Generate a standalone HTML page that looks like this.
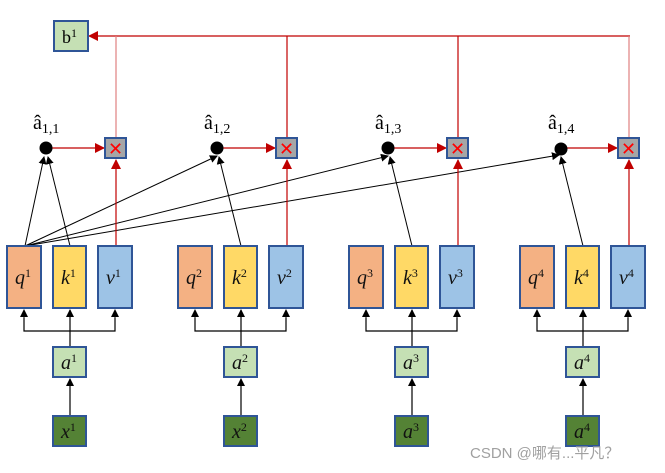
<!DOCTYPE html>
<html><head><meta charset="utf-8"><style>
html,body{margin:0;padding:0;background:#fff;width:665px;height:473px;overflow:hidden}
svg{display:block}
.lbl{font-family:"Liberation Serif",serif;font-style:italic;font-size:20px;fill:#111}
.sup{font-size:12px;font-style:normal}
.hat{font-family:"Liberation Serif",serif;font-size:20px}
</style></head><body>
<svg width="665" height="473" viewBox="0 0 665 473" xmlns="http://www.w3.org/2000/svg">
<defs>
<marker id="ab" markerWidth="8" markerHeight="8" refX="7" refY="4" orient="auto" markerUnits="userSpaceOnUse"><path d="M0,0 L8,4 L0,8 z" fill="#000"/></marker>
<marker id="ar" markerWidth="10" markerHeight="10" refX="9" refY="5" orient="auto" markerUnits="userSpaceOnUse"><path d="M0,0 L10,5 L0,10 z" fill="#c00000"/></marker>
<g id="grp">
<line x1="52" y1="148" x2="104" y2="148" stroke="#c00000" stroke-width="1.2" marker-end="url(#ar)"/>
<rect x="105" y="138" width="21" height="20" fill="#a6a6a6" stroke="#2f5597" stroke-width="2"/>
<text x="115.5" y="155" text-anchor="middle" font-family="Liberation Sans,sans-serif" font-size="18" fill="#ff0000">✕</text>
<line x1="116" y1="246" x2="116" y2="160" stroke="#c00000" stroke-width="1.2" marker-end="url(#ar)"/>
<line x1="70" y1="246" x2="48" y2="157" stroke="#000" marker-end="url(#ab)"/>
<rect x="7" y="246" width="34" height="62" fill="#f4b183" stroke="#2f5597" stroke-width="2"/>
<rect x="53" y="246" width="33" height="62" fill="#ffd966" stroke="#2f5597" stroke-width="2"/>
<rect x="98" y="246" width="34" height="62" fill="#9dc3e6" stroke="#2f5597" stroke-width="2"/>
<polyline points="24,318 24,331 115,331 115,318" fill="none" stroke="#000" stroke-width="1.2"/>
<line x1="24" y1="320" x2="24" y2="310" stroke="#000" marker-end="url(#ab)"/>
<line x1="115" y1="320" x2="115" y2="310" stroke="#000" marker-end="url(#ab)"/>
<line x1="70" y1="347" x2="70" y2="310" stroke="#000" stroke-width="1.2" marker-end="url(#ab)"/>
<rect x="53" y="347" width="33" height="30" fill="#c5e0b4" stroke="#2f5597" stroke-width="2"/>
<line x1="70" y1="416" x2="70" y2="379" stroke="#000" stroke-width="1.2" marker-end="url(#ab)"/>
<rect x="53" y="416" width="33" height="30" fill="#548235" stroke="#2f5597" stroke-width="2"/>
</g>
</defs>
<line x1="630" y1="36" x2="89" y2="36" stroke="#c00000" stroke-width="1.2" marker-end="url(#ar)"/>
<rect x="54" y="21" width="34" height="30" fill="#c5e0b4" stroke="#2f5597" stroke-width="2"/>
<text x="62" y="43" font-family="Liberation Serif,serif" font-size="18">b<tspan font-size="12" dy="-6">1</tspan></text>
<line x1="116" y1="36" x2="116" y2="138" stroke="#e08080" stroke-width="1.2"/>
<line x1="287" y1="36" x2="287" y2="138" stroke="#c00000" stroke-width="1.2"/>
<line x1="458" y1="36" x2="458" y2="138" stroke="#c00000" stroke-width="1.2"/>
<line x1="629" y1="36" x2="629" y2="138" stroke="#e08080" stroke-width="1.2"/>
<line x1="25" y1="246" x2="217" y2="156" stroke="#000" marker-end="url(#ab)"/>
<line x1="25" y1="246" x2="388" y2="156" stroke="#000" marker-end="url(#ab)"/>
<line x1="25" y1="246" x2="559" y2="155" stroke="#000" marker-end="url(#ab)"/>
<line x1="25" y1="246" x2="44" y2="157" stroke="#000" marker-end="url(#ab)"/>

<use href="#grp"/>
<use href="#grp" transform="translate(171,0)"/>
<use href="#grp" transform="translate(342,0)"/>
<use href="#grp" transform="translate(513,0)"/>
<circle cx="46" cy="148" r="6.5"/>
<circle cx="217" cy="148" r="6.5"/>
<circle cx="388" cy="148" r="6.5"/>
<circle cx="561" cy="149" r="6.5"/>

<g class="hat">
<text x="33" y="129">â<tspan font-size="14" dy="4">1,1</tspan></text>
<text x="204" y="129">â<tspan font-size="14" dy="4">1,2</tspan></text>
<text x="375" y="129">â<tspan font-size="14" dy="4">1,3</tspan></text>
<text x="548" y="129">â<tspan font-size="14" dy="4">1,4</tspan></text>
</g>
<g class="lbl">
<text x="15" y="284">q<tspan class="sup" dy="-7">1</tspan></text>
<text x="61" y="284">k<tspan class="sup" dy="-7">1</tspan></text>
<text x="106" y="284">v<tspan class="sup" dy="-7">1</tspan></text>
<text x="61" y="369">a<tspan class="sup" dy="-7">1</tspan></text>
<text x="61" y="438">x<tspan class="sup" dy="-7">1</tspan></text>
<text x="186" y="284">q<tspan class="sup" dy="-7">2</tspan></text>
<text x="232" y="284">k<tspan class="sup" dy="-7">2</tspan></text>
<text x="277" y="284">v<tspan class="sup" dy="-7">2</tspan></text>
<text x="232" y="369">a<tspan class="sup" dy="-7">2</tspan></text>
<text x="232" y="438">x<tspan class="sup" dy="-7">2</tspan></text>
<text x="357" y="284">q<tspan class="sup" dy="-7">3</tspan></text>
<text x="403" y="284">k<tspan class="sup" dy="-7">3</tspan></text>
<text x="448" y="284">v<tspan class="sup" dy="-7">3</tspan></text>
<text x="403" y="369">a<tspan class="sup" dy="-7">3</tspan></text>
<text x="403" y="438">a<tspan class="sup" dy="-7">3</tspan></text>
<text x="528" y="284">q<tspan class="sup" dy="-7">4</tspan></text>
<text x="574" y="284">k<tspan class="sup" dy="-7">4</tspan></text>
<text x="619" y="284">v<tspan class="sup" dy="-7">4</tspan></text>
<text x="574" y="369">a<tspan class="sup" dy="-7">4</tspan></text>
<text x="574" y="438">a<tspan class="sup" dy="-7">4</tspan></text>
</g>
<text x="470" y="458" font-family="Liberation Sans,'Noto Sans CJK SC',sans-serif" font-size="15" fill="#a0a0a0">CSDN @哪有...平凡？</text>
</svg>
</body></html>
